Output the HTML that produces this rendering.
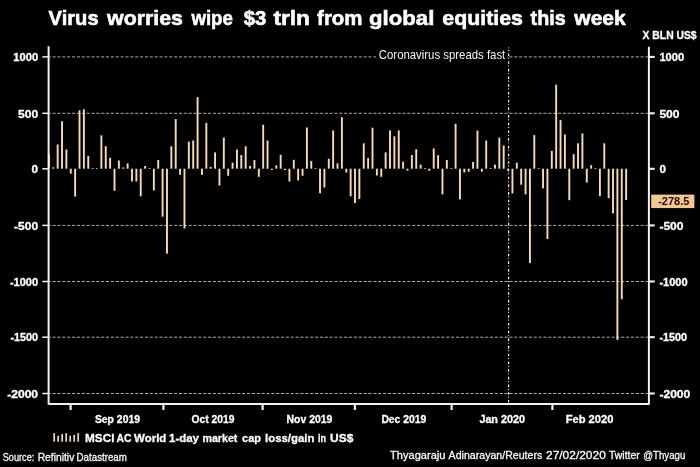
<!DOCTYPE html>
<html><head><meta charset="utf-8"><title>Virus worries wipe $3 trln from global equities this week</title>
<style>
html,body{margin:0;padding:0;background:#000;}
body{width:700px;height:467px;overflow:hidden;font-family:"Liberation Sans",sans-serif;}
svg{display:block;opacity:0.999;will-change:transform;font-family:"Liberation Sans",sans-serif;}
.title{font-size:20.8px;font-weight:bold;fill:#fff;stroke:#fff;stroke-width:0.6px;}
.ax{font-size:10.4px;font-weight:bold;fill:#fff;stroke:#fff;stroke-width:0.3px;}
.unit{font-size:10.6px;font-weight:bold;fill:#fff;stroke:#fff;stroke-width:0.3px;}
.ann{font-size:13.2px;fill:#f6f6f6;}
.leg{font-size:11.6px;font-weight:bold;fill:#fff;stroke:#fff;stroke-width:0.3px;}
.src{font-size:11.2px;fill:#fcfcfc;stroke:#fcfcfc;stroke-width:0.3px;}
.val{font-size:11px;font-weight:bold;fill:#1a0e00;}
</style></head>
<body>
<svg width="700" height="467" viewBox="0 0 700 467">
<rect x="0" y="0" width="700" height="467" fill="#000"/>
<text x="48.6" y="25.2" class="title" text-anchor="start" textLength="50.0" lengthAdjust="spacingAndGlyphs">Virus</text>
<text x="107.1" y="25.2" class="title" text-anchor="start" textLength="75.8" lengthAdjust="spacingAndGlyphs">worries</text>
<text x="191.4" y="25.2" class="title" text-anchor="start" textLength="41.5" lengthAdjust="spacingAndGlyphs">wipe</text>
<text x="243.7" y="25.2" class="title" text-anchor="start" textLength="22.6" lengthAdjust="spacingAndGlyphs">$3</text>
<text x="273.4" y="25.2" class="title" text-anchor="start" textLength="36.6" lengthAdjust="spacingAndGlyphs">trln</text>
<text x="317.1" y="25.2" class="title" text-anchor="start" textLength="45.4" lengthAdjust="spacingAndGlyphs">from</text>
<text x="369.1" y="25.2" class="title" text-anchor="start" textLength="65.2" lengthAdjust="spacingAndGlyphs">global</text>
<text x="442.3" y="25.2" class="title" text-anchor="start" textLength="80.6" lengthAdjust="spacingAndGlyphs">equities</text>
<text x="530.6" y="25.2" class="title" text-anchor="start" textLength="35.1" lengthAdjust="spacingAndGlyphs">this</text>
<text x="574.3" y="25.2" class="title" text-anchor="start" textLength="51.4" lengthAdjust="spacingAndGlyphs">week</text>
<text x="642.6" y="39.2" class="unit" text-anchor="start" textLength="54.0" lengthAdjust="spacingAndGlyphs">X BLN US$</text>
<g stroke="#adadad" stroke-width="1" stroke-dasharray="3.1 1.76" stroke-dashoffset="1.9" fill="none">
<line x1="49.6" y1="56.9" x2="647.9" y2="56.9"/>
<line x1="49.6" y1="113.3" x2="647.9" y2="113.3"/>
<line x1="49.6" y1="225.4" x2="647.9" y2="225.4"/>
<line x1="49.6" y1="281.5" x2="647.9" y2="281.5"/>
<line x1="49.6" y1="337.2" x2="647.9" y2="337.2"/>
<line x1="49.6" y1="393.5" x2="647.9" y2="393.5"/>
</g>
<line x1="508.6" y1="47.400000000000006" x2="508.6" y2="404.1" stroke="#efefef" stroke-width="1.2" stroke-dasharray="2.6 1.7 0.9 2.5" stroke-dashoffset="1.63"/>
<rect x="376" y="47" width="131" height="14" fill="#000"/>
<text x="378.8" y="58.5" class="ann" text-anchor="start" textLength="126.5" lengthAdjust="spacingAndGlyphs">Coronavirus spreads fast</text>
<g fill="#fadbb8">
<rect x="47.95" y="153.80" width="1.9" height="14.90"/>
<rect x="52.32" y="167.30" width="1.9" height="1.40"/>
<rect x="56.70" y="144.50" width="1.9" height="24.20"/>
<rect x="61.07" y="121.20" width="1.9" height="47.50"/>
<rect x="65.44" y="149.50" width="1.9" height="19.20"/>
<rect x="69.81" y="168.70" width="1.9" height="4.90"/>
<rect x="74.19" y="168.70" width="1.9" height="27.90"/>
<rect x="78.56" y="110.30" width="1.9" height="58.40"/>
<rect x="82.93" y="109.30" width="1.9" height="59.40"/>
<rect x="87.31" y="156.00" width="1.9" height="12.70"/>
<rect x="91.68" y="168.00" width="1.9" height="0.70"/>
<rect x="96.05" y="168.00" width="1.9" height="0.70"/>
<rect x="100.43" y="135.40" width="1.9" height="33.30"/>
<rect x="104.80" y="146.20" width="1.9" height="22.50"/>
<rect x="109.17" y="157.80" width="1.9" height="10.90"/>
<rect x="113.55" y="168.70" width="1.9" height="22.10"/>
<rect x="117.92" y="160.50" width="1.9" height="8.20"/>
<rect x="122.29" y="167.50" width="1.9" height="1.20"/>
<rect x="126.66" y="163.40" width="1.9" height="5.30"/>
<rect x="131.04" y="168.70" width="1.9" height="12.80"/>
<rect x="135.41" y="168.70" width="1.9" height="12.80"/>
<rect x="139.78" y="168.70" width="1.9" height="27.60"/>
<rect x="144.16" y="166.00" width="1.9" height="2.70"/>
<rect x="148.53" y="168.00" width="1.9" height="0.70"/>
<rect x="152.90" y="168.70" width="1.9" height="21.80"/>
<rect x="157.28" y="160.00" width="1.9" height="8.70"/>
<rect x="161.65" y="168.70" width="1.9" height="48.00"/>
<rect x="166.02" y="168.70" width="1.9" height="84.90"/>
<rect x="170.39" y="146.30" width="1.9" height="22.40"/>
<rect x="174.77" y="119.10" width="1.9" height="49.60"/>
<rect x="179.14" y="168.70" width="1.9" height="6.10"/>
<rect x="183.51" y="168.70" width="1.9" height="59.80"/>
<rect x="187.89" y="141.60" width="1.9" height="27.10"/>
<rect x="192.26" y="140.50" width="1.9" height="28.20"/>
<rect x="196.63" y="97.10" width="1.9" height="71.60"/>
<rect x="201.01" y="168.70" width="1.9" height="6.10"/>
<rect x="205.38" y="123.00" width="1.9" height="45.70"/>
<rect x="209.75" y="167.00" width="1.9" height="1.70"/>
<rect x="214.12" y="152.40" width="1.9" height="16.30"/>
<rect x="218.50" y="168.70" width="1.9" height="16.80"/>
<rect x="222.87" y="137.60" width="1.9" height="31.10"/>
<rect x="227.24" y="168.70" width="1.9" height="7.10"/>
<rect x="231.62" y="162.70" width="1.9" height="6.00"/>
<rect x="235.99" y="149.50" width="1.9" height="19.20"/>
<rect x="240.36" y="155.00" width="1.9" height="13.70"/>
<rect x="244.74" y="146.30" width="1.9" height="22.40"/>
<rect x="249.11" y="166.00" width="1.9" height="2.70"/>
<rect x="253.48" y="160.00" width="1.9" height="8.70"/>
<rect x="257.85" y="168.70" width="1.9" height="8.10"/>
<rect x="262.23" y="124.70" width="1.9" height="44.00"/>
<rect x="266.60" y="140.50" width="1.9" height="28.20"/>
<rect x="270.97" y="168.70" width="1.9" height="1.30"/>
<rect x="275.35" y="165.30" width="1.9" height="3.40"/>
<rect x="279.72" y="154.80" width="1.9" height="13.90"/>
<rect x="284.09" y="168.70" width="1.9" height="1.30"/>
<rect x="288.47" y="168.70" width="1.9" height="12.80"/>
<rect x="292.84" y="159.80" width="1.9" height="8.90"/>
<rect x="297.21" y="168.70" width="1.9" height="11.80"/>
<rect x="301.58" y="168.70" width="1.9" height="7.10"/>
<rect x="305.96" y="127.50" width="1.9" height="41.20"/>
<rect x="310.33" y="161.00" width="1.9" height="7.70"/>
<rect x="314.70" y="168.00" width="1.9" height="0.70"/>
<rect x="319.08" y="168.70" width="1.9" height="24.60"/>
<rect x="323.45" y="168.70" width="1.9" height="18.80"/>
<rect x="327.82" y="158.80" width="1.9" height="9.90"/>
<rect x="332.19" y="130.40" width="1.9" height="38.30"/>
<rect x="336.57" y="163.40" width="1.9" height="5.30"/>
<rect x="340.94" y="117.20" width="1.9" height="51.50"/>
<rect x="345.31" y="168.70" width="1.9" height="3.80"/>
<rect x="349.69" y="168.70" width="1.9" height="27.60"/>
<rect x="354.06" y="168.70" width="1.9" height="34.30"/>
<rect x="358.43" y="168.70" width="1.9" height="30.40"/>
<rect x="362.81" y="143.30" width="1.9" height="25.40"/>
<rect x="367.18" y="158.10" width="1.9" height="10.60"/>
<rect x="371.55" y="127.70" width="1.9" height="41.00"/>
<rect x="375.93" y="168.70" width="1.9" height="6.80"/>
<rect x="380.30" y="168.70" width="1.9" height="8.10"/>
<rect x="384.67" y="152.40" width="1.9" height="16.30"/>
<rect x="389.04" y="130.40" width="1.9" height="38.30"/>
<rect x="393.42" y="136.30" width="1.9" height="32.40"/>
<rect x="397.79" y="130.40" width="1.9" height="38.30"/>
<rect x="402.16" y="161.70" width="1.9" height="7.00"/>
<rect x="406.54" y="168.70" width="1.9" height="2.00"/>
<rect x="410.91" y="155.00" width="1.9" height="13.70"/>
<rect x="415.28" y="149.20" width="1.9" height="19.50"/>
<rect x="419.66" y="164.60" width="1.9" height="4.10"/>
<rect x="424.03" y="168.00" width="1.9" height="0.70"/>
<rect x="428.40" y="168.70" width="1.9" height="2.20"/>
<rect x="432.77" y="148.40" width="1.9" height="20.30"/>
<rect x="437.15" y="155.20" width="1.9" height="13.50"/>
<rect x="441.52" y="168.70" width="1.9" height="25.70"/>
<rect x="445.89" y="160.00" width="1.9" height="8.70"/>
<rect x="450.27" y="168.00" width="1.9" height="0.70"/>
<rect x="454.64" y="123.70" width="1.9" height="45.00"/>
<rect x="459.01" y="168.70" width="1.9" height="30.70"/>
<rect x="463.38" y="168.70" width="1.9" height="3.80"/>
<rect x="467.76" y="168.70" width="1.9" height="3.00"/>
<rect x="472.13" y="162.00" width="1.9" height="6.70"/>
<rect x="476.50" y="130.60" width="1.9" height="38.10"/>
<rect x="480.88" y="168.70" width="1.9" height="3.00"/>
<rect x="485.25" y="140.50" width="1.9" height="28.20"/>
<rect x="489.62" y="168.00" width="1.9" height="0.70"/>
<rect x="494.00" y="164.60" width="1.9" height="4.10"/>
<rect x="498.37" y="137.60" width="1.9" height="31.10"/>
<rect x="502.74" y="145.50" width="1.9" height="23.20"/>
<rect x="507.12" y="168.70" width="1.9" height="2.00"/>
<rect x="511.49" y="168.70" width="1.9" height="24.70"/>
<rect x="515.86" y="162.70" width="1.9" height="6.00"/>
<rect x="520.23" y="168.70" width="1.9" height="16.00"/>
<rect x="524.61" y="168.70" width="1.9" height="25.70"/>
<rect x="528.98" y="168.70" width="1.9" height="94.40"/>
<rect x="533.35" y="135.10" width="1.9" height="33.60"/>
<rect x="537.73" y="168.00" width="1.9" height="0.70"/>
<rect x="542.10" y="168.70" width="1.9" height="19.70"/>
<rect x="546.47" y="168.70" width="1.9" height="70.30"/>
<rect x="550.85" y="150.90" width="1.9" height="17.80"/>
<rect x="555.22" y="84.70" width="1.9" height="84.00"/>
<rect x="559.59" y="120.10" width="1.9" height="48.60"/>
<rect x="563.96" y="134.40" width="1.9" height="34.30"/>
<rect x="568.34" y="168.70" width="1.9" height="31.50"/>
<rect x="572.71" y="154.20" width="1.9" height="14.50"/>
<rect x="577.08" y="143.30" width="1.9" height="25.40"/>
<rect x="581.46" y="133.40" width="1.9" height="35.30"/>
<rect x="585.83" y="168.70" width="1.9" height="13.90"/>
<rect x="590.20" y="165.20" width="1.9" height="3.50"/>
<rect x="594.57" y="168.00" width="1.9" height="0.70"/>
<rect x="598.95" y="168.70" width="1.9" height="27.50"/>
<rect x="603.32" y="143.30" width="1.9" height="25.40"/>
<rect x="607.69" y="168.70" width="1.9" height="29.50"/>
<rect x="612.07" y="168.70" width="1.9" height="44.70"/>
<rect x="616.44" y="168.70" width="1.9" height="171.20"/>
<rect x="620.81" y="168.70" width="1.9" height="130.60"/>
<rect x="625.19" y="168.70" width="1.9" height="31.30"/>
</g>
<path d="M48.6,46.2 V404.1 H648.9 V46.800000000000004" stroke="#f2f2f2" stroke-width="2" fill="none" stroke-linejoin="round"/>
<g stroke="#f2f2f2" stroke-width="1.5" fill="none">
<line x1="42.3" y1="56.9" x2="48.6" y2="56.9"/>
<line x1="42.3" y1="113.3" x2="48.6" y2="113.3"/>
<line x1="42.3" y1="168.8" x2="48.6" y2="168.8"/>
<line x1="42.3" y1="225.4" x2="48.6" y2="225.4"/>
<line x1="42.3" y1="281.5" x2="48.6" y2="281.5"/>
<line x1="42.3" y1="337.2" x2="48.6" y2="337.2"/>
<line x1="42.3" y1="393.5" x2="48.6" y2="393.5"/>
</g>
<g stroke="#f2f2f2" stroke-width="2.1" fill="none">
<line x1="648.9" y1="56.9" x2="654.7" y2="56.9"/>
<line x1="648.9" y1="113.3" x2="654.7" y2="113.3"/>
<line x1="648.9" y1="168.8" x2="654.7" y2="168.8"/>
<line x1="648.9" y1="225.4" x2="654.7" y2="225.4"/>
<line x1="648.9" y1="281.5" x2="654.7" y2="281.5"/>
<line x1="648.9" y1="337.2" x2="654.7" y2="337.2"/>
<line x1="648.9" y1="393.5" x2="654.7" y2="393.5"/>
</g>
<g stroke="#f2f2f2" stroke-width="2.2" fill="none">
<line x1="70.6" y1="404.1" x2="70.6" y2="410"/>
<line x1="163.4" y1="404.1" x2="163.4" y2="410"/>
<line x1="262.6" y1="404.1" x2="262.6" y2="410"/>
<line x1="354.9" y1="404.1" x2="354.9" y2="410"/>
<line x1="451.6" y1="404.1" x2="451.6" y2="410"/>
<line x1="552.4" y1="404.1" x2="552.4" y2="410"/>
</g>
<text x="13.3" y="61.1" class="ax" text-anchor="start" textLength="24.8" lengthAdjust="spacingAndGlyphs">1000</text>
<text x="659.4" y="61.1" class="ax" text-anchor="start" textLength="24.8" lengthAdjust="spacingAndGlyphs">1000</text>
<text x="18.0" y="117.5" class="ax" text-anchor="start" textLength="20.1" lengthAdjust="spacingAndGlyphs">500</text>
<text x="659.4" y="117.5" class="ax" text-anchor="start" textLength="20.1" lengthAdjust="spacingAndGlyphs">500</text>
<text x="31.6" y="173.0" class="ax" text-anchor="start" textLength="6.5" lengthAdjust="spacingAndGlyphs">0</text>
<text x="659.4" y="173.0" class="ax" text-anchor="start" textLength="6.5" lengthAdjust="spacingAndGlyphs">0</text>
<text x="14.1" y="229.6" class="ax" text-anchor="start" textLength="24.0" lengthAdjust="spacingAndGlyphs">-500</text>
<text x="659.4" y="229.6" class="ax" text-anchor="start" textLength="24.0" lengthAdjust="spacingAndGlyphs">-500</text>
<text x="9.9" y="285.7" class="ax" text-anchor="start" textLength="28.2" lengthAdjust="spacingAndGlyphs">-1000</text>
<text x="659.4" y="285.7" class="ax" text-anchor="start" textLength="28.2" lengthAdjust="spacingAndGlyphs">-1000</text>
<text x="10.5" y="341.4" class="ax" text-anchor="start" textLength="27.6" lengthAdjust="spacingAndGlyphs">-1500</text>
<text x="659.4" y="341.4" class="ax" text-anchor="start" textLength="27.6" lengthAdjust="spacingAndGlyphs">-1500</text>
<text x="7.2" y="397.7" class="ax" text-anchor="start" textLength="30.9" lengthAdjust="spacingAndGlyphs">-2000</text>
<text x="659.4" y="397.7" class="ax" text-anchor="start" textLength="30.9" lengthAdjust="spacingAndGlyphs">-2000</text>
<text x="94.9" y="423.3" class="ax" text-anchor="start" textLength="45.1" lengthAdjust="spacingAndGlyphs">Sep 2019</text>
<text x="191.4" y="423.3" class="ax" text-anchor="start" textLength="43.0" lengthAdjust="spacingAndGlyphs">Oct 2019</text>
<text x="286.6" y="423.3" class="ax" text-anchor="start" textLength="45.7" lengthAdjust="spacingAndGlyphs">Nov 2019</text>
<text x="381.4" y="423.3" class="ax" text-anchor="start" textLength="44.9" lengthAdjust="spacingAndGlyphs">Dec 2019</text>
<text x="479.4" y="423.3" class="ax" text-anchor="start" textLength="45.5" lengthAdjust="spacingAndGlyphs">Jan 2020</text>
<text x="565.7" y="423.3" class="ax" text-anchor="start" textLength="47.7" lengthAdjust="spacingAndGlyphs">Feb 2020</text>
<rect x="651.2" y="194.6" width="43.2" height="13.5" fill="#f7c893"/>
<text x="658.2" y="205.2" class="val" text-anchor="start" textLength="31.1" lengthAdjust="spacingAndGlyphs">-278.5</text>
<g fill="#efdccd">
<rect x="53.35" y="433.1" width="1.7" height="8.60"/>
<rect x="57.35" y="435.7" width="1.7" height="6.00"/>
<rect x="61.35" y="434.0" width="1.7" height="7.70"/>
<rect x="65.35" y="433.1" width="1.7" height="8.60"/>
<rect x="69.35" y="435.7" width="1.7" height="6.00"/>
<rect x="73.35" y="434.9" width="1.7" height="6.80"/>
<rect x="77.35" y="433.1" width="1.7" height="8.60"/>
</g>
<text x="85.0" y="442.3" class="leg" text-anchor="start" textLength="29.4" lengthAdjust="spacingAndGlyphs">MSCI</text>
<text x="116.6" y="442.3" class="leg" text-anchor="start" textLength="15.0" lengthAdjust="spacingAndGlyphs">AC</text>
<text x="134.0" y="442.3" class="leg" text-anchor="start" textLength="32.4" lengthAdjust="spacingAndGlyphs">World</text>
<text x="169.0" y="442.3" class="leg" text-anchor="start" textLength="30.0" lengthAdjust="spacingAndGlyphs">1-day</text>
<text x="202.4" y="442.3" class="leg" text-anchor="start" textLength="35.0" lengthAdjust="spacingAndGlyphs">market</text>
<text x="242.0" y="442.3" class="leg" text-anchor="start" textLength="19.0" lengthAdjust="spacingAndGlyphs">cap</text>
<text x="265.0" y="442.3" class="leg" text-anchor="start" textLength="49.4" lengthAdjust="spacingAndGlyphs">loss/gain</text>
<text x="318.0" y="442.3" class="leg" text-anchor="start" textLength="8.0" lengthAdjust="spacingAndGlyphs">in</text>
<text x="330.0" y="442.3" class="leg" text-anchor="start" textLength="23.3" lengthAdjust="spacingAndGlyphs">US$</text>
<text x="2.7" y="461.0" class="src" text-anchor="start" textLength="31.6" lengthAdjust="spacingAndGlyphs">Source:</text>
<text x="37.7" y="461.0" class="src" text-anchor="start" textLength="36.6" lengthAdjust="spacingAndGlyphs">Refinitiv</text>
<text x="76.6" y="461.0" class="src" text-anchor="start" textLength="50.3" lengthAdjust="spacingAndGlyphs">Datastream</text>
<text x="390.1" y="459.0" class="src" text-anchor="start" textLength="55.3" lengthAdjust="spacingAndGlyphs">Thyagaraju</text>
<text x="448.6" y="459.0" class="src" text-anchor="start" textLength="93.7" lengthAdjust="spacingAndGlyphs">Adinarayan/Reuters</text>
<text x="546.0" y="459.0" class="src" text-anchor="start" textLength="59.8" lengthAdjust="spacingAndGlyphs">27/02/2020</text>
<text x="609.0" y="459.0" class="src" text-anchor="start" textLength="30.8" lengthAdjust="spacingAndGlyphs">Twitter</text>
<text x="643.3" y="459.0" class="src" text-anchor="start" textLength="42.0" lengthAdjust="spacingAndGlyphs">@Thyagu</text>
</svg>
</body></html>
